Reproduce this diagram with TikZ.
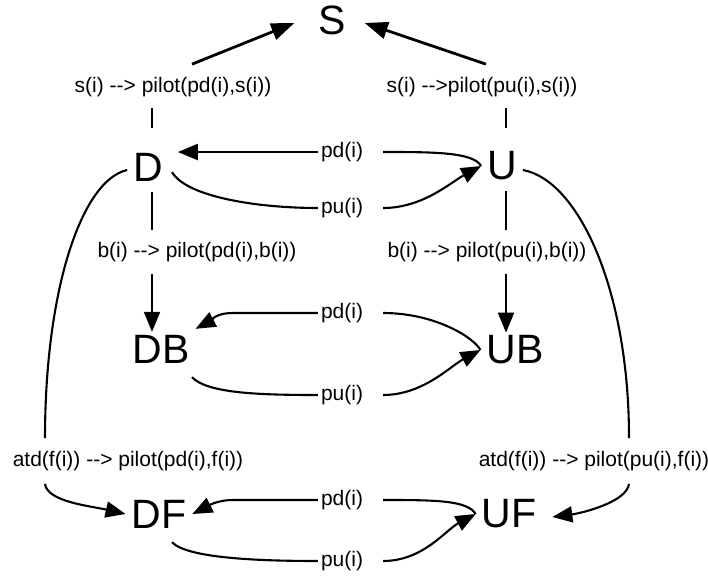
\documentclass[tikz,border=0pt]{standalone}
\usepackage{fontspec}
\setmainfont{Liberation Sans}
\usetikzlibrary{
  arrows.meta,
  calc,
}

\tikzset{
  state/.style={font=\fontsize{41}{41}\selectfont, inner sep=5pt},
  lbl/.style={font=\fontsize{21}{21}\selectfont, inner sep=2pt},
  arr/.style={-{Triangle[length=20pt,width=16pt]}},
  sarr/.style={line width=2.8pt, -{Triangle[length=23pt,width=17pt]}},
}

\begin{document}
\begin{tikzpicture}[x=1pt,y=-1pt,line width=2.1pt]
  \useasboundingbox (0,0) rectangle (708,576);

  \node[state] (S) at (332,20) {S};
  \node[state] (D) at (148,167) {D};
  \node[state] (U) at (502,166) {U};
  \node[state] (DB) at (161,349) {DB};
  \node[state] (UB) at (515,350) {UB};
  \node[state] (DF) at (159,514) {DF};
  \node[state] (UF) at (509,514) {UF};

  \node[lbl] (sD) at (173,87) {s(i) -{}-> pilot(pd(i),s(i))};
  \node[lbl] (sU) at (482,87) {s(i) -{}->pilot(pu(i),s(i))};
  \node[lbl] (bD) at (197,252) {b(i) -{}-> pilot(pd(i),b(i))};
  \node[lbl] (bU) at (487,252) {b(i) -{}-> pilot(pu(i),b(i))};
  \node[lbl] (aD) at (128,461) {atd(f(i)) -{}-> pilot(pd(i),f(i))};
  \node[lbl] (aU) at (594,461) {atd(f(i)) -{}-> pilot(pu(i),f(i))};

  \foreach \n/\yd/\yu in {T/152/208, M/313/395, B/500/561}{
      \node[lbl] (pd\n) at (342,\yd) {pd(i)};
      \node[lbl] (pu\n) at (342,\yu) {pu(i)};
    }

  \draw[sarr] ($(sD.north)+(19,-10)$) -- ($(S.west)+(-18,3)$);
  \draw[sarr] ($(sU.north)+(4,-10)$) -- ($(S.east)+(13,3)$);

  \draw ($(D.north)+(4,-19)$) -- ($(sD.south)+(-21,8)$);
  \draw ($(U.north)+(4,-18)$) -- ($(sU.south)+(24,8)$);
  \draw ($(D.south)+(4,5)$) -- ($(bD.north)+(-45,-9)$);
  \draw ($(U.south)+(4,5)$) -- ($(bU.north)+(19,-9)$);
  \draw[arr] ($(bD.south)+(-45,9)$) -- ($(DB.north)+(-9,3)$);
  \draw[arr] ($(bU.south)+(19,9)$) -- ($(UB.north)+(-9,3)$);

  \foreach \n/\r in {T/U, M/UB, B/UF}{
      \draw ([xshift=17pt]pd\n.east) .. controls +(50,0) and +(-8,-14) .. (\r.west);
      \draw[arr] ([xshift=17pt]pu\n.east) .. controls +(40,0) and +(-30,16) .. (\r.west);
    }

  \draw[arr] (pdT.west) -- ($(D.east)+(9,-15)$);
  \draw[arr] (pdM.west) -- ++(-85,0) .. controls +(-18,0) and +(15,-8) .. (DB.north east);
  \draw[arr] (pdB.west) -- ++(-85,0) .. controls +(-18,0) and +(12,-6) .. (DF.east);

  \draw ($(D.south)+(24,-15)$) .. controls +(15,25) and +(-60,0) .. (puT.west);
  \draw ($(DB.south)+(31,8)$) .. controls +(15,16) and +(-60,0) .. (puM.west);
  \draw ($(DF.south)+(13,8)$) .. controls +(15,16) and +(-60,0) .. (puB.west);

  \draw ($(D.west)+(0,3)$) .. controls +(-45,10) and +(0,-150) .. ($(aD.north)+(-83,-10)$);
  \draw[arr] ($(aD.south)+(-83,10)$) .. controls +(2,18) and +(-35,-8) .. (DF.west);
  \draw ($(U.east)+(0,4)$) .. controls +(55,10) and +(0,-150) .. ($(aU.north)+(35,-10)$);
  \draw[arr] ($(aU.south)+(35,10)$) .. controls +(-2,18) and +(30,-4) .. ($(UF.east)+(10,3)$);
\end{tikzpicture}
\end{document}
